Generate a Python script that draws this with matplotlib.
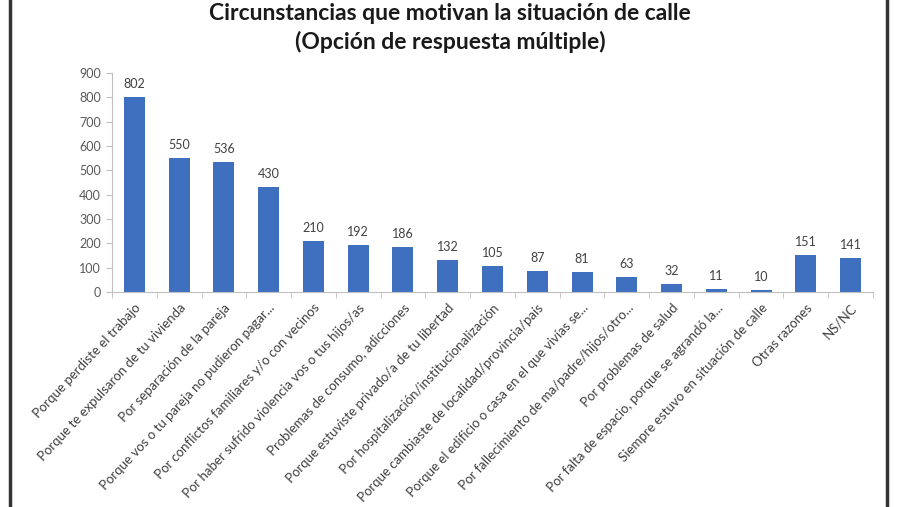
import matplotlib
matplotlib.use("Agg")
import matplotlib.pyplot as plt
from matplotlib.lines import Line2D
import numpy as np

titulo = "Circunstancias que motivan la situación de calle"
subtitulo = "(Opción de respuesta múltiple)"

categorias = [
    "Porque perdiste el trabajo",
    "Porque te expulsaron de tu vivienda",
    "Por separación de la pareja",
    "Porque vos o tu pareja no pudieron pagar...",
    "Por conflictos familiares y/o con vecinos",
    "Por haber sufrido violencia vos o tus hijos/as",
    "Problemas de consumo, adicciones",
    "Porque estuviste privado/a de tu libertad",
    "Por hospitalización/institucionalización",
    "Porque cambiaste de localidad/provincia/país",
    "Porque el edificio o casa en el que vivías se...",
    "Por fallecimiento de ma/padre/hijos/otro...",
    "Por problemas de salud",
    "Por falta de espacio, porque se agrandó la...",
    "Siempre estuvo en situación de calle",
    "Otras razones",
    "NS/NC",
]
valores = [802, 550, 536, 430, 210, 192, 186, 132, 105, 87, 81, 63, 32, 11, 10, 151, 141]
yticks = [0, 100, 200, 300, 400, 500, 600, 700, 800, 900]

plt.rcParams['font.family'] = ['Lato', 'DejaVu Sans']

fig = plt.figure(figsize=(9, 5.07), dpi=100)
fig.patch.set_facecolor('white')
ax = fig.add_axes([112/900, 1-292/507, (873-112)/900, (292-73)/507])

x = np.arange(len(categorias))
ax.bar(x, valores, width=0.47, color='#3F70C0', zorder=2)

for xi, v in zip(x, valores):
    ax.annotate(str(v), (xi, v), xytext=(0, 7), textcoords='offset pixels',
                ha='center', va='bottom', fontsize=9, color='#404040')

ax.set_xlim(-0.5, len(categorias) - 0.5)
ax.set_ylim(0, 900)
ax.set_yticks(yticks)
ax.set_yticklabels([str(t) for t in yticks], fontsize=9, color='#595959')

ax.set_xticks(x)
ax.set_xticklabels(categorias, rotation=47, ha='right', va='top',
                   rotation_mode='anchor', fontsize=9.5, color='#404040')
ax.tick_params(axis='x', which='major', length=0, pad=7)
ax.set_xticks(np.arange(-0.5, len(categorias), 1), minor=True)
ax.tick_params(axis='x', which='minor', length=4, color='#BFBFBF')
ax.tick_params(axis='y', length=4, color='#BFBFBF', pad=4)

for s in ['top', 'right']:
    ax.spines[s].set_visible(False)
ax.spines['left'].set_color('#BFBFBF')
ax.spines['bottom'].set_color('#BFBFBF')

fig.text(0.5, 1 - 13/507, titulo, ha='center', va='center', fontsize=16.5,
         fontweight='bold', color='#1a1a1a')
fig.text(0.5, 1 - 42/507, subtitulo, ha='center', va='center', fontsize=16.5,
         fontweight='bold', color='#1a1a1a')

# marco de la captura
fig.add_artist(Line2D([10/900, 10/900], [0, 1], color='#333333', lw=2.5))
fig.add_artist(Line2D([887/900, 887/900], [0, 1], color='#333333', lw=2.5))

fig.savefig('out.png', dpi=100)
